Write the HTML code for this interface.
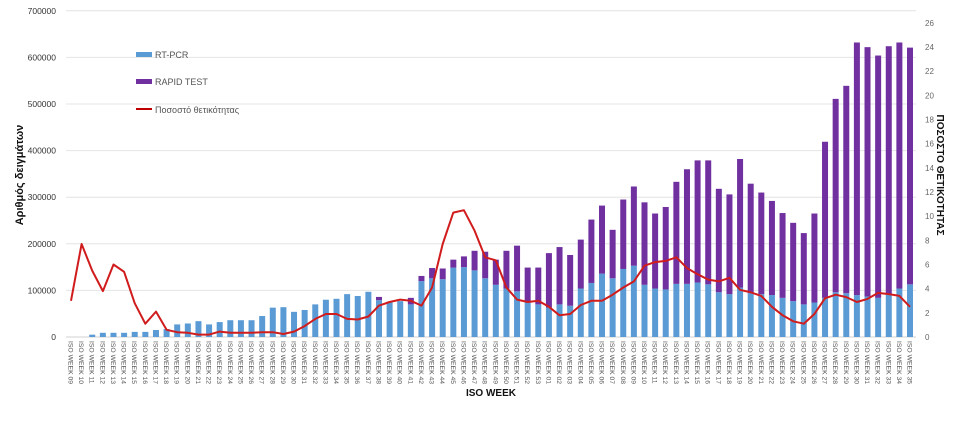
<!DOCTYPE html>
<html><head><meta charset="utf-8"><style>
html,body{margin:0;padding:0;background:#fff;}
svg{display:block;font-family:"Liberation Sans",sans-serif;}
</style></head><body>
<svg id="chart" width="960" height="421" viewBox="0 0 960 421" xmlns="http://www.w3.org/2000/svg">
<g id="grid"></g>
<g id="yl"></g>
<g id="yr"></g>
<g id="bars"></g>
<g id="line"></g>
<g id="xl"></g>
<text transform="translate(23,175) rotate(-90)" text-anchor="middle" font-size="11" font-weight="bold" fill="#111">Αριθμός δειγμάτων</text>
<text transform="translate(937,175) rotate(90)" text-anchor="middle" font-size="10" font-weight="bold" fill="#111">ΠΟΣΟΣΤΟ ΘΕΤΙΚΟΤΗΤΑΣ</text>
<text x="491" y="396" text-anchor="middle" font-size="10" font-weight="bold" fill="#111">ISO WEEK</text>
<g>
<g><rect x="136" y="52" width="16" height="5" fill="#5b9bd5"/><text x="155" y="58" font-size="9" fill="#555">RT-PCR</text></g>
<g><rect x="136" y="79" width="16" height="5" fill="#7030a0"/><text x="155" y="85" font-size="9" fill="#555">RAPID TEST</text></g>
<g><rect x="136" y="108" width="16" height="2" fill="#c00000"/><text x="155" y="113" font-size="9" fill="#555">Ποσοστό θετικότητας</text></g>
</g>
</svg>
<script>
const weeks = ["09","10","11","12","13","14","15","16","17","18","19","20","21","22","23","24","25","26","27","28","29","30","31","32","33","34","35","36","37","38","39","40","41","42","43","44","45","46","47","48","49","50","51","52","53","01","02","03","04","05","06","07","08","09","10","11","12","13","14","15","16","17","18","19","20","21","22","23","24","25","26","27","28","29","30","31","32","33","34","35"];
const pcr = [0,0,5,9,9,9,11,11,15,17,27,29,34,27,32,36,36,36,45,63,64,54,58,70,80,82,92,88,97,79,76,77,70,120,126,124,149,150,143,126,112,104,98,76,70,63,70,67,104,116,136,126,146,153,112,104,102,114,114,117,113,96,92,106,94,92,90,84,77,70,74,84,96,94,90,87,84,92,104,113];
const total = [0,0,5,9,9,9,11,11,15,17,27,29,34,27,32,36,36,36,45,63,64,54,58,70,80,82,92,88,97,86,76,77,84,131,148,147,166,173,185,183,166,185,196,149,149,180,193,176,209,252,282,230,295,323,289,265,279,333,360,379,379,318,306,382,329,310,292,266,245,223,265,419,511,539,632,622,604,624,632,621];
const positivity = [3.0,7.7,5.5,3.8,6.0,5.4,2.8,1.1,2.1,0.6,0.4,0.35,0.2,0.2,0.45,0.35,0.35,0.35,0.4,0.4,0.25,0.45,0.9,1.5,1.9,1.9,1.5,1.45,1.7,2.6,2.9,3.1,3.0,2.6,4.1,7.7,10.3,10.5,8.8,6.6,6.35,4.1,3.1,2.9,3.0,2.5,1.8,1.9,2.65,3.0,3.0,3.5,4.1,4.6,5.9,6.2,6.3,6.6,5.7,5.2,4.75,4.6,4.9,3.9,3.7,3.4,2.5,1.8,1.3,1.1,1.9,3.2,3.5,3.3,2.9,3.15,3.65,3.55,3.4,2.5];
const leftTicks = [0,100000,200000,300000,400000,500000,600000,700000];
const rightTicks = [0,2,4,6,8,10,12,14,16,18,20,22,24,26];

const NS="http://www.w3.org/2000/svg";
const base=337, x0=71, step=(910-71)/79;
const yL=v=>base - v/100000*46.6;
const yR=v=>base - v*12.08;
const xP=i=>x0+i*step;
function mk(tag,attrs,parent){const e=document.createElementNS(NS,tag);for(const k in attrs)e.setAttribute(k,attrs[k]);parent.appendChild(e);return e;}
const G=id=>document.getElementById(id);

leftTicks.forEach(t=>{
  const l=mk('line',{x1:66,x2:916,y1:yL(t),y2:yL(t),stroke:t===0?'#d0d0d0':'#e4e4e4','stroke-width':1},G('grid'));
  
  
  const tx=mk('text',{x:56,y:yL(t)+3,'text-anchor':'end','font-size':8.5,fill:'#333'},G('yl'));
  tx.textContent=t;
  
  
});
rightTicks.forEach(t=>{
  const tx=mk('text',{x:925,y:yR(t)+3,'font-size':8,fill:'#666'},G('yr'));
  tx.textContent=t;
  
  
});
const bw=6;
weeks.forEach((w,i)=>{
  const x=xP(i)-bw/2;
  const p=pcr[i]*1000, tot=total[i]*1000;
  if(p>0){
    const r=mk('rect',{x:x,y:yL(p),width:bw,height:base-yL(p),fill:'#5b9bd5'},G('bars'));
    
    
  }
  if(tot>p){
    const r=mk('rect',{x:x,y:yL(tot),width:bw,height:yL(p)-yL(tot),fill:'#7030a0'},G('bars'));
    
    
  }
  const tx=mk('text',{transform:`translate(${xP(i)-2.5},341) rotate(90)`,'font-size':6.8,fill:'#555'},G('xl'));
  tx.textContent='ISO WEEK '+w;
  
  
});
const pts=positivity.map((v,i)=>xP(i).toFixed(1)+','+yR(v).toFixed(1)).join(' ');
const pl=mk('polyline',{points:pts,fill:'none',stroke:'#d01c1c','stroke-width':2,'stroke-linejoin':'round'},G('line'));


</script>
</body></html>
